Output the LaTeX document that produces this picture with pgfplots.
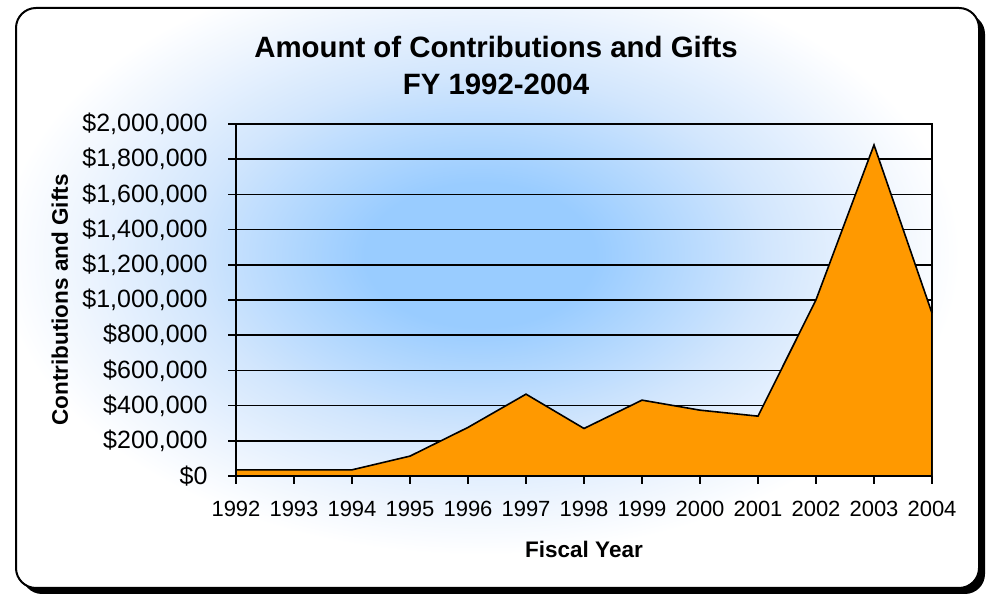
\documentclass[border=0pt]{standalone}
\usepackage{fontspec}
\setmainfont{Liberation Sans}
\usepackage{pgfplots}
\pgfplotsset{compat=1.18}

\definecolor{areaorange}{HTML}{FF9900}
\definecolor{glowblue}{HTML}{99CCFF}
\definecolor{glowmid}{HTML}{D2E6FD}
\definecolor{glowpale}{HTML}{EEF5FE}
% central 50bp square of the shading is mapped onto the path's box
\pgfdeclareradialshading{chartglow}{\pgfpoint{0bp}{0bp}}{%
  color(0bp)=(glowblue); color(6bp)=(glowblue); color(15bp)=(glowmid);
  color(21bp)=(glowpale); color(25bp)=(white); color(50bp)=(white)}

\begin{document}
\begin{tikzpicture}[x=1bp,y=1bp]
\useasboundingbox (0,0) rectangle (986,595);
% frame, shadow and glow behind the chart
\fill[black, rounded corners=20bp] (22,1) rectangle (985,581);
\fill[white, rounded corners=20bp] (16,7) rectangle (979,587);
\begin{scope}
  \clip[rounded corners=20bp] (16,7) rectangle (979,587);
  \shade[shading=chartglow] (0,40) rectangle (960,640);
\end{scope}
\draw[black, line width=2bp, rounded corners=20bp] (16,7) rectangle (979,587);

\node[align=center, inner sep=0pt, font=\bfseries\fontsize{29.4bp}{37bp}\selectfont]
  at (496,529) {Amount of Contributions and Gifts\\FY 1992-2004};

\begin{axis}[
  at={(236bp,119bp)}, anchor=south west,
  scale only axis, width=696bp, height=352bp,
  xmin=1992, xmax=2004, ymin=0, ymax=2000000,
  xtick={1992,1993,1994,1995,1996,1997,1998,1999,2000,2001,2002,2003,2004},
  xticklabels={1992,1993,1994,1995,1996,1997,1998,1999,2000,2001,2002,2003,2004},
  ytick={0,200000,400000,600000,800000,1000000,1200000,1400000,1600000,1800000,2000000},
  yticklabels={{\$0},{\$200,000},{\$400,000},{\$600,000},{\$800,000},{\$1,000,000},
    {\$1,200,000},{\$1,400,000},{\$1,600,000},{\$1,800,000},{\$2,000,000}},
  scaled y ticks=false,
  xtick pos=bottom, ytick pos=left,
  tick align=outside, major tick length=8bp,
  tick style={black, line width=1.6bp},
  axis line style={black, line width=1.8bp},
  ymajorgrids, grid style={black, line width=1.6bp},
  xticklabel style={font=\fontsize{22bp}{26bp}\selectfont, yshift=-14bp},
  yticklabel style={font=\fontsize{25bp}{29bp}\selectfont, xshift=-17bp},
  xlabel={Fiscal Year}, ylabel={Contributions and Gifts},
  label style={font=\bfseries\fontsize{22.5bp}{26bp}\selectfont},
  xlabel style={at={(axis description cs:0.5,-0.21)}, anchor=center},
  ylabel style={at={(axis description cs:-0.253,0.5)}, anchor=center},
]
\addplot[draw=black, line width=1.6bp, fill=areaorange] coordinates {
  (1992,35000) (1993,35000) (1994,35000) (1995,113000) (1996,276000)
  (1997,465000) (1998,270000) (1999,431000) (2000,374000) (2001,340000)
  (2002,1001000) (2003,1881000) (2004,925000)
} \closedcycle;
\end{axis}
\end{tikzpicture}
\end{document}
